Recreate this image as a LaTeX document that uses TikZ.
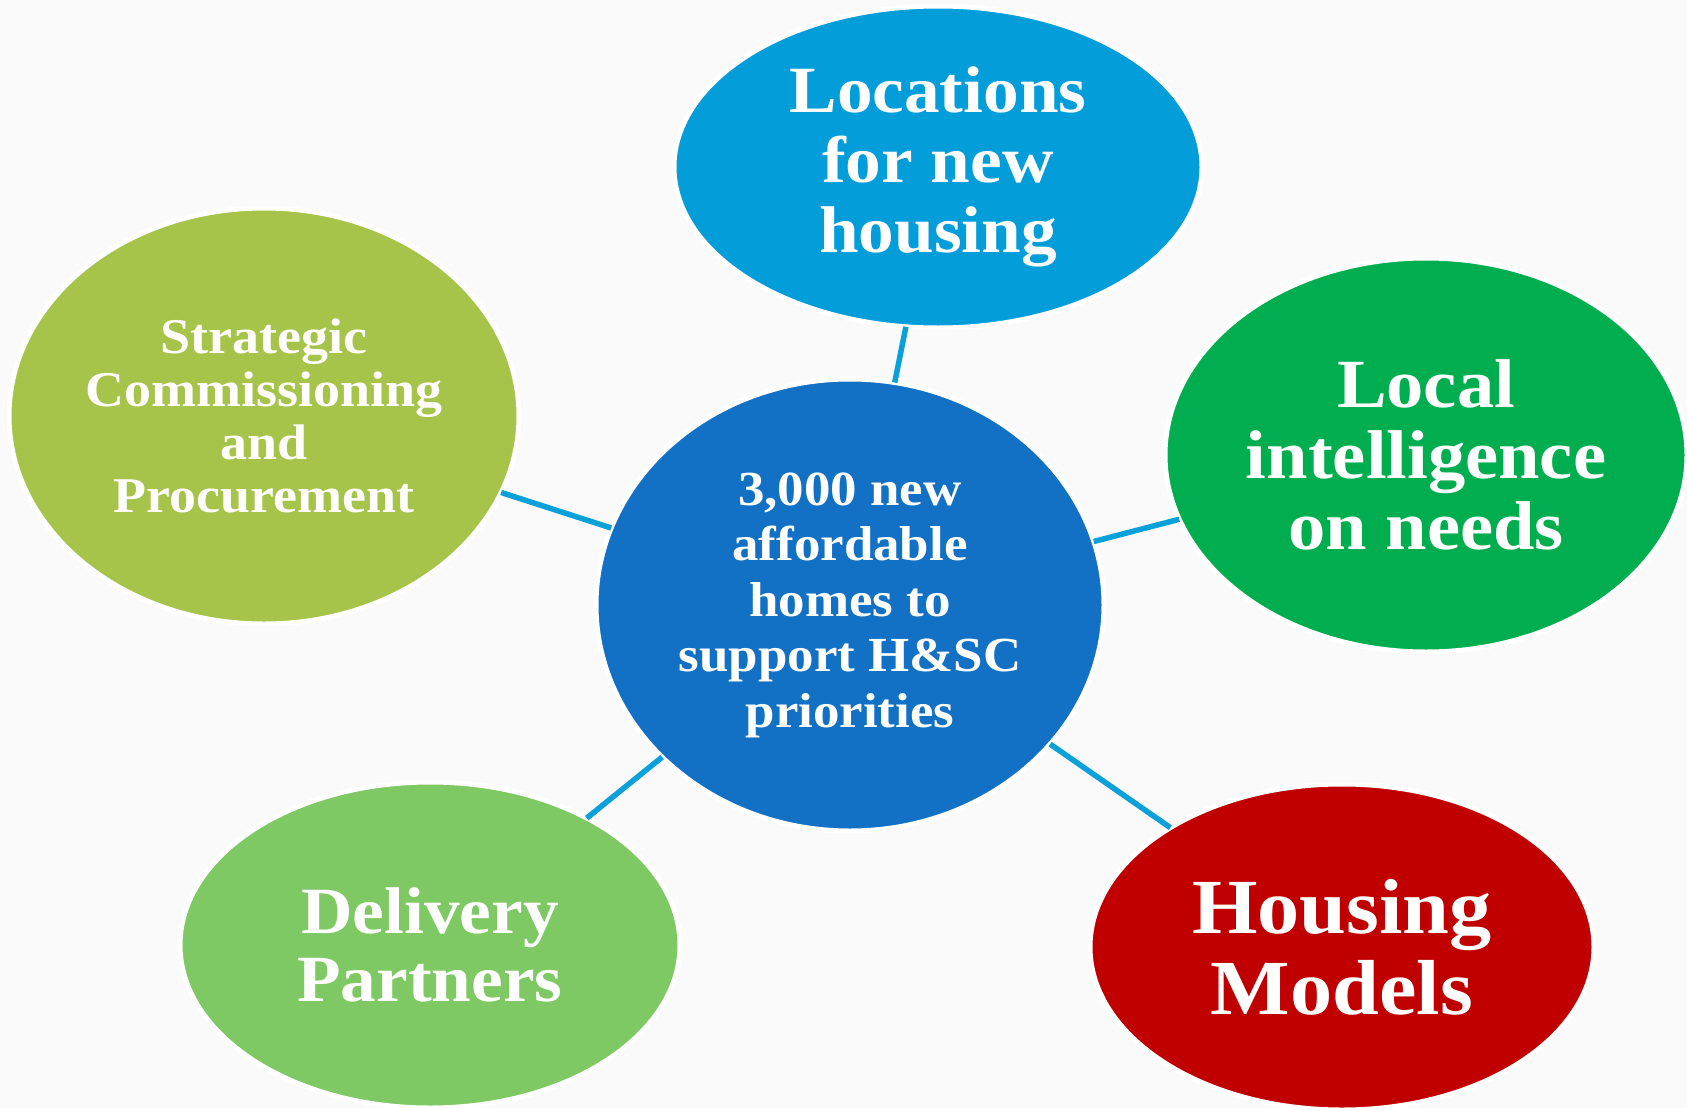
\documentclass[tikz,border=0pt]{standalone}
\usepackage{fontspec}
\setmainfont{Liberation Serif}[FakeStretch=1.08]
\usepackage{xcolor}
\usetikzlibrary{shapes.geometric}
\definecolor{bgpaper}{HTML}{FAFAFA}
\definecolor{linkblue}{HTML}{0AA0DA}
\definecolor{skyblue}{HTML}{039DDA}
\definecolor{royalblue}{HTML}{1270C5}
\definecolor{olivegreen}{HTML}{A6C34A}
\definecolor{deepgreen}{HTML}{00AE4F}
\definecolor{leafgreen}{HTML}{7FC964}
\definecolor{darkred}{HTML}{C00000}

\begin{document}
\begin{tikzpicture}[x=1pt,y=-1pt,
	bubble/.style={ellipse,draw=white,line width=5pt,inner sep=0pt,outer sep=0pt,text=white,align=center},
	link/.style={draw=linkblue,line width=5.5pt}]
		\useasboundingbox (0,0) rectangle (1687,1108);
		\clip (0,0) rectangle (1687,1108);
		\fill[bgpaper] (0,0) rectangle (1687,1108);
	
		\node[bubble,fill=royalblue,minimum width=508pt,minimum height=452pt,
		font=\bfseries\fontsize{49}{55.5}\selectfont] (homes) at (850,605) 
		{3,000 new\\affordable\\homes to\\support H\&SC\\priorities};
	
		\node[bubble,fill=skyblue,minimum width=528pt,minimum height=322pt,
		font=\bfseries\fontsize{66}{70}\selectfont] (locations) at (938,167) 
		{Locations\\for new\\housing};
	
		\node[bubble,fill=olivegreen,minimum width=510pt,minimum height=416pt,
		font=\bfseries\fontsize{50}{53}\selectfont] (strategic) at (264,416) 
		{Strategic\\Commissioning\\and\\Procurement};
	
		\node[bubble,fill=deepgreen,minimum width=522pt,minimum height=394pt,
		font=\bfseries\fontsize{69}{71}\selectfont] (local) at (1426,455) 
		{Local\\intelligence\\on needs};
	
		\node[bubble,fill=leafgreen,minimum width=500pt,minimum height=326pt,
		font=\bfseries\fontsize{66}{68}\selectfont] (delivery) at (430,945) 
		{Delivery\\Partners};
	
		\node[bubble,fill=darkred,minimum width=504pt,minimum height=326pt,
		font=\bfseries\fontsize{78}{81}\selectfont] (models) at (1342,947) 
		{Housing\\Models};
	
		\draw[link] (homes) -- (locations);
		\draw[link] (homes) -- (strategic);
		\draw[link] (homes) -- (local);
		\draw[link] (homes) -- (delivery);
		\draw[link] (homes) -- (models);
	\end{tikzpicture}
\end{document}
